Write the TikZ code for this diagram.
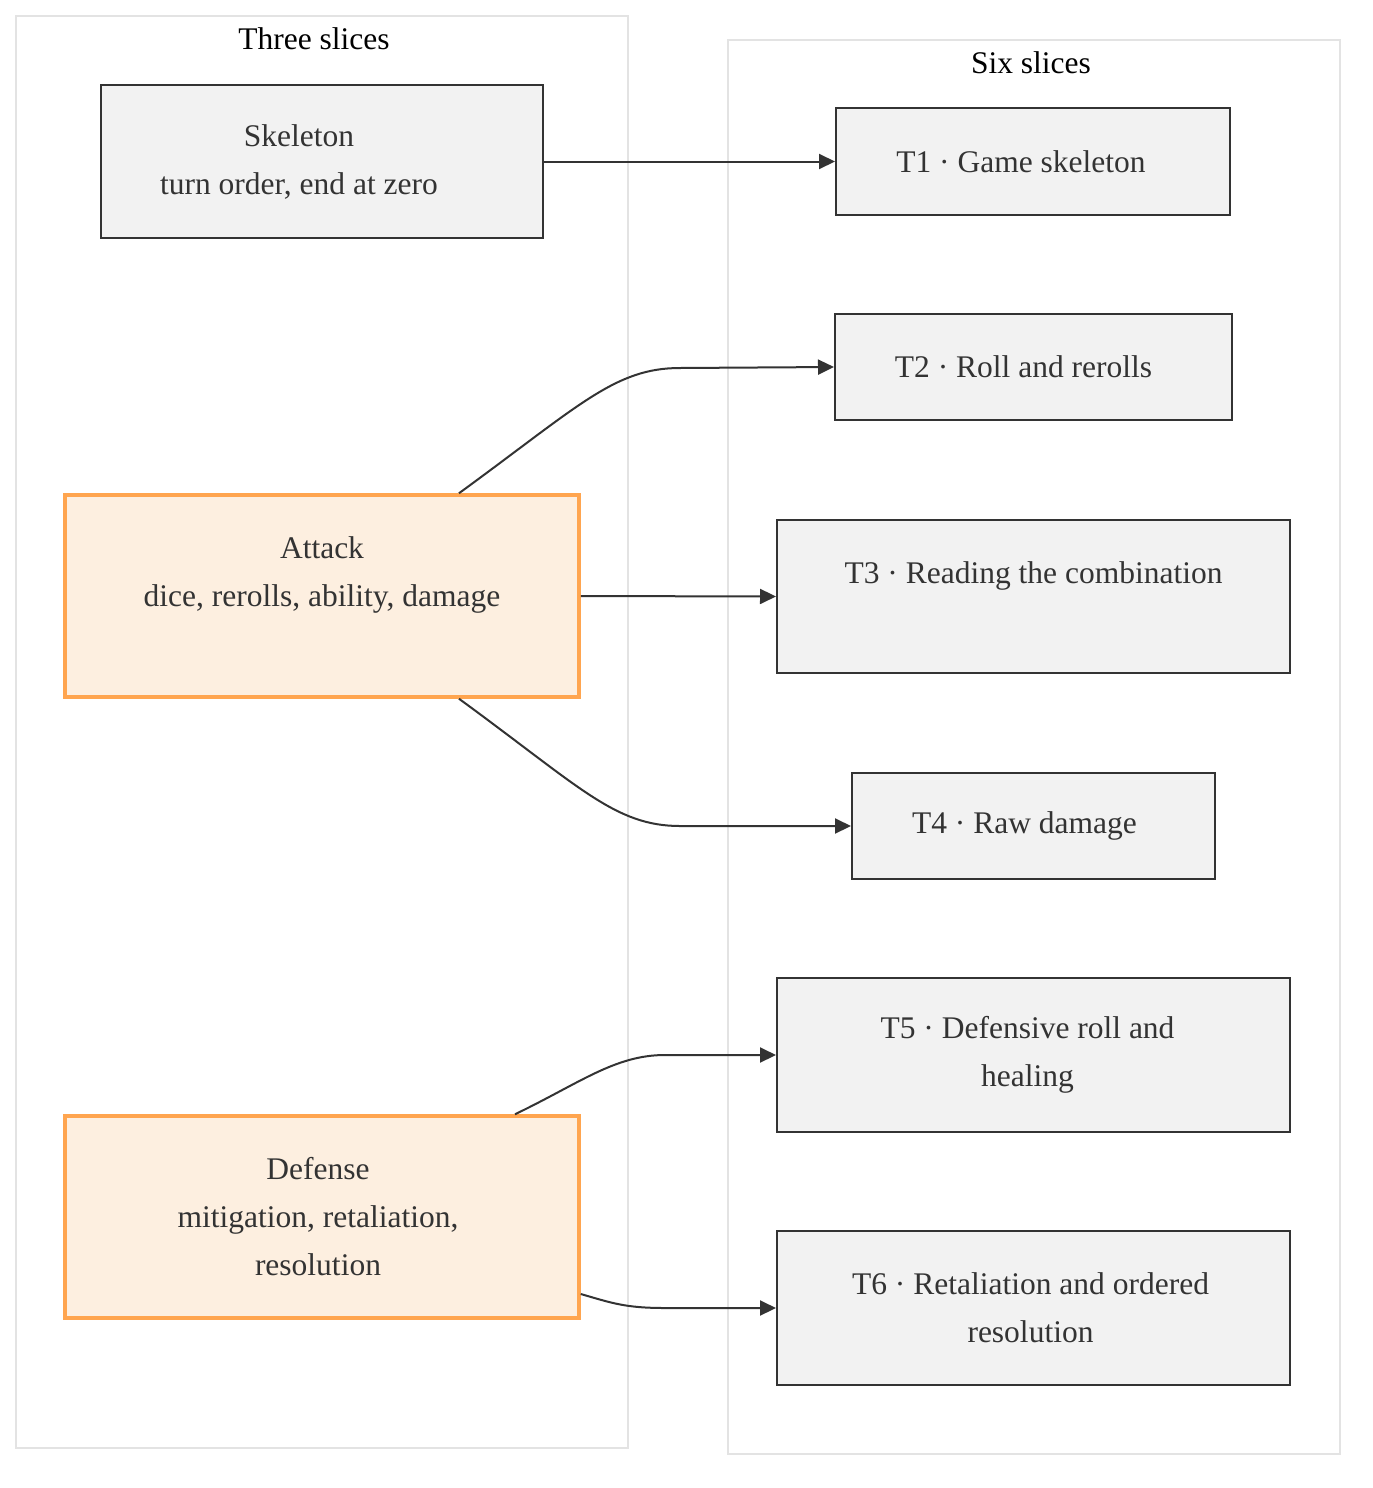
\documentclass[tikz,border=0pt]{standalone}
\usepackage{fontspec}
\setmainfont{Liberation Serif}
\usetikzlibrary{arrows.meta,calc}
\definecolor{ink}{HTML}{333333}
\definecolor{boxfill}{HTML}{F2F2F2}
\definecolor{hotfill}{HTML}{FDEFE0}
\definecolor{hotline}{HTML}{FFA54F}
\definecolor{cluster}{HTML}{E3E3E3}
\newcommand\padR[1]{\rule{#1}{0pt}}
\tikzset{
  txt/.style={font=\fontsize{15.75}{24}\selectfont, text=ink, align=center},
  plain/.style={txt, draw=ink, fill=boxfill, line width=1pt, inner sep=0pt},
  hot/.style={txt, draw=hotline, fill=hotfill, line width=1.75pt, inner sep=0pt},
  clusterbox/.style={draw=cluster, line width=1pt},
  clustertitle/.style={font=\fontsize{15.75}{24}\selectfont, text=black},
  link/.style={draw=ink, line width=1pt, -{Triangle[length=8pt,width=7.5pt]}},
}
\begin{document}
\begin{tikzpicture}[x=0.5pt,y=-0.5pt]
\useasboundingbox (0,0) rectangle (1372,1488);
% clusters
\draw[clusterbox] (16,16) rectangle (628,1448);
\node[clustertitle] (lefttitle) at (314,39) {Three slices};
\draw[clusterbox] (728,40) rectangle (1340,1454);
\node[clustertitle] (righttitle) at (1031,63) {Six slices};
% left nodes
\node[plain, minimum width=221pt, minimum height=76.5pt] (skel) at (322,161.5) {Skeleton\padR{23pt}\\turn order, end at zero\padR{23pt}};
\node[hot, minimum width=257pt, minimum height=101pt] (attack) at (322,596) {Attack\\dice, rerolls, ability, damage\\\mbox{}};
\node[hot, minimum width=257pt, minimum height=101pt] (defense) at (322,1217) {Defense\padR{4pt}\\mitigation, retaliation,\padR{4pt}\\resolution\padR{4pt}};
% right nodes
\node[plain, minimum width=197pt, minimum height=53.5pt] (t1) at (1033,161.5) {T1 · Game skeleton\padR{12pt}};
\node[plain, minimum width=198.5pt, minimum height=53pt] (t2) at (1033.5,367) {T2 · Roll and rerolls\padR{10pt}};
\node[plain, minimum width=256.5pt, minimum height=76.5pt] (t3) at (1033.5,596.5) {T3 · Reading the combination\\\mbox{}};
\node[plain, minimum width=181.5pt, minimum height=53pt] (t4) at (1033.5,826) {T4 · Raw damage\padR{9pt}};
\node[plain, minimum width=256.5pt, minimum height=77pt] (t5) at (1033.5,1055) {T5 · Defensive roll and\padR{6pt}\\healing\padR{6pt}};
\node[plain, minimum width=256.5pt, minimum height=77pt] (t6) at (1033.5,1308) {T6 · Retaliation and ordered\padR{3pt}\\resolution\padR{3pt}};
% connectors
\draw[link] (skel.east) -- (t1.west);
\draw[link] ([xshift=68.5pt]attack.north) .. controls (580,405) and (615,368) .. (680,368) -- (t2.west);
\draw[link] (attack.east) -- (t3.west);
\draw[link] ([xshift=68.5pt]attack.south) .. controls (580,787) and (615,826) .. (680,826) -- (t4.west);
\draw[link] ([xshift=96.5pt]defense.north) .. controls (580,1083) and (615,1055) .. (665,1055) -- (t5.west);
\draw[link] ([yshift=-38.5pt]defense.east) .. controls (612,1303) and (625,1308) .. (665,1308) -- (t6.west);
\end{tikzpicture}
\end{document}
